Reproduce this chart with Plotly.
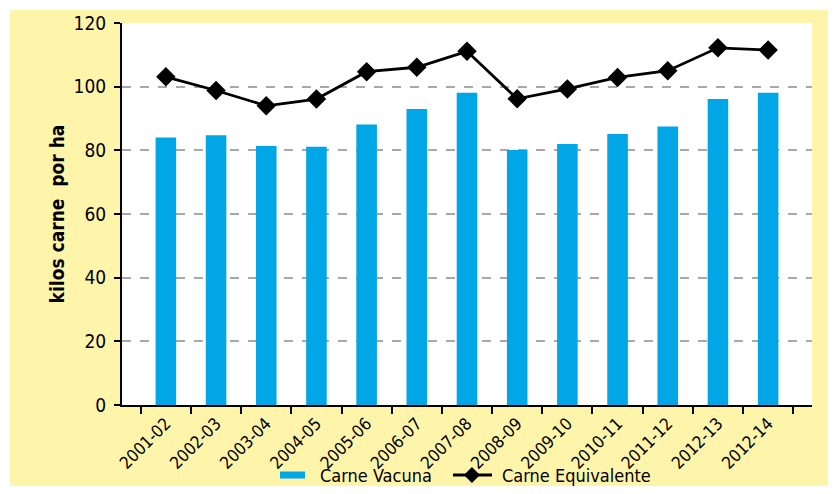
import plotly.graph_objects as go

seasons = ['2001-02', '2002-03', '2003-04', '2004-05', '2005-06', '2006-07', '2007-08',
           '2008-09', '2009-10', '2010-11', '2011-12', '2012-13', '2012-14']
carne_vacuna = [84, 84.7, 81.4, 81.1, 88.1, 93, 98.1, 80.1, 82, 85.1, 87.5, 96.1, 98.1]
carne_equivalente = [103.1, 98.8, 94, 96.1, 104.7, 106.1, 111.1, 96.2, 99.3, 102.9, 105, 112.2, 111.5]
y_ticks = [0, 20, 40, 60, 80, 100, 120]
series_names = ['Carne Vacuna', 'Carne Equivalente']

FONT = 'DejaVu Sans Condensed, sans-serif'
YELLOW = '#FFF5AA'
BLUE = '#00A6E6'

fig = go.Figure()
fig.add_trace(go.Bar(x=seasons, y=carne_vacuna, name=series_names[0],
                     marker=dict(color=BLUE, line=dict(width=0)), width=0.41))
fig.add_trace(go.Scatter(x=seasons, y=carne_equivalente, name=series_names[1],
                         mode='lines+markers',
                         line=dict(color='black', width=2.8),
                         marker=dict(symbol='diamond', size=15, color='black')))

# legend is drawn by hand below the axis (plotly's own legend would push the bottom margin)
leg_y = -0.1833
dx, dy = 8 / 690, 8 / 382
dcx = 0.5072
legend_shapes = [
    dict(type='rect', xref='paper', yref='paper', x0=0.229, x1=0.2652,
         y0=leg_y - 0.0092, y1=leg_y + 0.0092, fillcolor=BLUE, line=dict(width=0)),
    dict(type='line', xref='paper', yref='paper', x0=0.4797, x1=0.5362, y0=leg_y, y1=leg_y,
         line=dict(color='black', width=2.8)),
    dict(type='path', xref='paper', yref='paper', fillcolor='black', line=dict(width=0),
         path=f'M {dcx - dx},{leg_y} L {dcx},{leg_y + dy} L {dcx + dx},{leg_y} L {dcx},{leg_y - dy} Z'),
]
legend_texts = [
    dict(text=series_names[0], x=0.2841, y=leg_y),
    dict(text=series_names[1], x=0.5478, y=leg_y),
]

# page body has an 8px margin, so the figure is sized to fit inside the window
fig.update_layout(
    width=820, height=478,
    margin=dict(l=114, r=16, t=15, b=81),
    paper_bgcolor='white',
    plot_bgcolor='white',
    font=dict(family=FONT, color='black', size=17),
    showlegend=False,
    shapes=[dict(type='rect', xref='paper', yref='paper', layer='below',
                 x0=-0.1623, x1=1.029, y0=-0.2277, y1=1.034,
                 fillcolor=YELLOW, line=dict(width=0)),
            dict(type='rect', xref='paper', yref='paper', layer='below',
                 x0=0, x1=1, y0=0, y1=1, fillcolor='white', line=dict(width=0))] + legend_shapes,
    annotations=[dict(t, xref='paper', yref='paper', xanchor='left', yanchor='middle',
                      showarrow=False, font=dict(size=18)) for t in legend_texts],
)

fig.update_xaxes(type='category', automargin=False, showline=True, linecolor='black', linewidth=2,
                 ticks='outside', ticklen=7, tickwidth=2, tickcolor='black',
                 tickson='boundaries', tickangle=-45, tickfont=dict(size=17),
                 showgrid=False)
fig.update_yaxes(range=[0, 120], tickvals=y_ticks, automargin=False,
                 showline=True, linecolor='black', linewidth=2,
                 ticks='outside', ticklen=6, tickwidth=2, tickcolor='black',
                 tickfont=dict(size=19), ticklabelstandoff=4,
                 showgrid=True, gridcolor='#A8A8A8', gridwidth=2, griddash='dash',
                 zeroline=False,
                 title=dict(text='<b>kilos carne  por ha</b>', font=dict(size=19), standoff=4))

fig.write_html('out.html')
